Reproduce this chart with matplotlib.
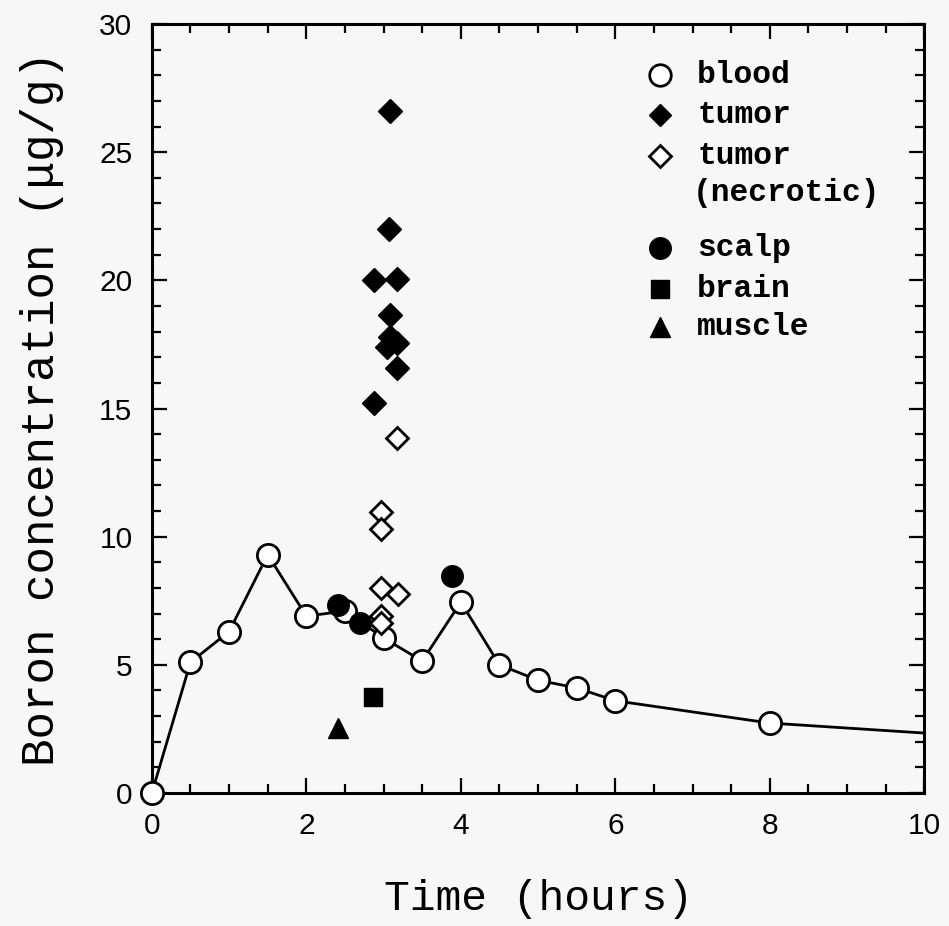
import matplotlib
matplotlib.use("Agg")
import matplotlib.pyplot as plt
from matplotlib.ticker import MultipleLocator

plt.rcParams["font.family"] = ["Liberation Sans", "DejaVu Sans"]

# ---- data ----
blood_time = [0, 0.5, 1, 1.5, 2, 2.5, 3, 3.5, 4, 4.5, 5, 5.5, 6, 8]
blood_conc = [0, 5.1, 6.3, 9.3, 6.9, 7.1, 6.05, 5.15, 7.45, 5.0, 4.4, 4.1, 3.6, 2.73]
blood_tail_time = [8, 10]
blood_tail_conc = [2.73, 2.34]

tumor_time = [3.08, 3.07, 2.88, 3.18, 3.08, 3.08, 3.18, 3.05, 3.18, 2.88]
tumor_conc = [26.6, 22.0, 20.0, 20.05, 18.65, 17.8, 17.55, 17.4, 16.6, 15.2]

necrotic_time = [3.17, 2.97, 2.97, 2.97, 3.19, 2.97, 2.97]
necrotic_conc = [13.85, 10.95, 10.3, 8.0, 7.75, 6.9, 6.65]

scalp_time = [2.41, 2.69, 3.88]
scalp_conc = [7.35, 6.65, 8.45]

brain_time = [2.86]
brain_conc = [3.75]

muscle_time = [2.41]
muscle_conc = [2.55]

x_ticks = [0, 2, 4, 6, 8, 10]
y_ticks = [0, 5, 10, 15, 20, 25, 30]

legend_labels = ["blood", "tumor", "tumor\n(necrotic)", "scalp", "brain", "muscle"]

# ---- figure ----
bg = "#f7f7f7"
fig = plt.figure(figsize=(9.49, 9.26), dpi=100, facecolor=bg)
ax = fig.add_axes([0.160, 0.1436, 0.814, 0.8304], facecolor=bg)

lw = 2.0
ax.plot(blood_tail_time, blood_tail_conc, color="black", lw=lw, zorder=2)
ax.plot(blood_time, blood_conc, color="black", lw=lw, marker="o", ms=16,
        mfc="white", mec="black", mew=2.0, zorder=3, clip_on=False)
ax.plot(tumor_time, tumor_conc, ls="none", marker="D", ms=12.5,
        mfc="black", mec="black", mew=1, zorder=4)
ax.plot(necrotic_time, necrotic_conc, ls="none", marker="D", ms=11.5,
        mfc="white", mec="black", mew=2.0, zorder=4)
ax.plot(scalp_time, scalp_conc, ls="none", marker="o", ms=15.5,
        mfc="black", mec="black", zorder=5)
ax.plot(brain_time, brain_conc, ls="none", marker="s", ms=13,
        mfc="black", mec="black", zorder=5)
ax.plot(muscle_time, muscle_conc, ls="none", marker="^", ms=15,
        mfc="black", mec="black", zorder=5)

ax.set_xlim(0, 10)
ax.set_ylim(0, 30)
ax.set_xticks(x_ticks)
ax.set_yticks(y_ticks)
ax.xaxis.set_minor_locator(MultipleLocator(0.5))
ax.yaxis.set_minor_locator(MultipleLocator(1))
ax.tick_params(which="both", direction="in", top=True, right=True, width=1.6,
               labelsize=21.5, pad=14)
ax.tick_params(which="major", length=11)
ax.tick_params(which="minor", length=6.5)
for s in ax.spines.values():
    s.set_linewidth(2.2)

ax.set_xlabel("Time (hours)", fontsize=31, family="Liberation Mono", labelpad=28)
ax.set_ylabel("Boron concentration (\u03bcg/g)", fontsize=33,
              family=["Liberation Mono", "DejaVu Sans"], labelpad=25)

# ---- legend (manual) ----
mx, tx = 0.658, 0.706
rows = [0.934, 0.882, 0.828, 0.709, 0.656, 0.606]
styles = [
    dict(marker="o", ms=15.5, mfc="white", mec="black", mew=2.0),
    dict(marker="D", ms=11.5, mfc="black", mec="black", mew=1),
    dict(marker="D", ms=11, mfc="white", mec="black", mew=2.0),
    dict(marker="o", ms=15.5, mfc="black", mec="black"),
    dict(marker="s", ms=13, mfc="black", mec="black"),
    dict(marker="^", ms=14.5, mfc="black", mec="black"),
]
txt_kw = dict(transform=ax.transAxes, fontsize=22.5, family="Liberation Mono",
              weight="bold", va="center")
for y, st, lab in zip(rows, styles, legend_labels):
    ax.plot([mx], [y], ls="none", transform=ax.transAxes, clip_on=False, **st)
    lines = lab.split("\n")
    ax.text(tx, y, lines[0], **txt_kw)
    for i, extra in enumerate(lines[1:], start=1):
        ax.text(tx - 0.006, y - 0.048 * i, extra, **txt_kw)

fig.savefig("out.png", dpi=100, facecolor=bg)
